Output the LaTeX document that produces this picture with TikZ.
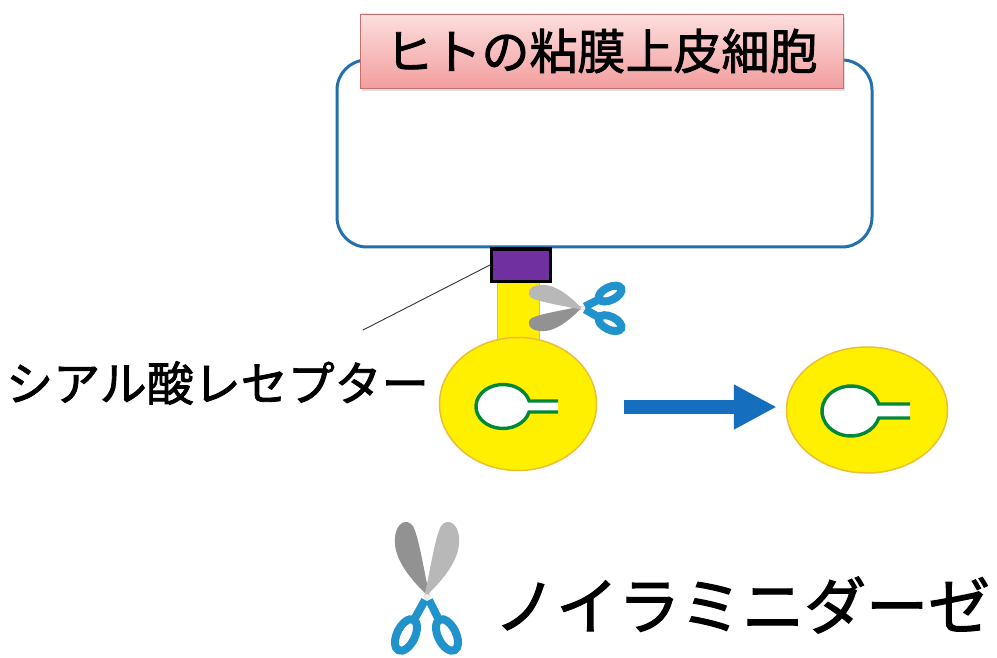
\documentclass[tikz,border=0pt]{standalone}
\usepackage{fontspec}
\newfontfamily\jpfont[FakeBold=1.8]{Noto Sans CJK JP}
\usetikzlibrary{shapes.geometric,arrows.meta,shadows}

\definecolor{cellblue}{RGB}{36,112,172}
\definecolor{arrowblue}{RGB}{22,110,190}
\definecolor{handleblue}{RGB}{32,146,204}
\definecolor{pinktop}{RGB}{253,222,222}
\definecolor{pinkbot}{RGB}{242,158,158}
\definecolor{pinkedge}{RGB}{196,112,112}
\definecolor{receptorpurple}{RGB}{112,48,160}
\definecolor{virusyellow}{RGB}{255,240,0}
\definecolor{virusedge}{RGB}{236,190,50}
\definecolor{keygreen}{RGB}{0,136,56}
\definecolor{bladelight}{RGB}{184,184,184}
\definecolor{bladedark}{RGB}{146,146,146}

\tikzset{
  cellbox/.style={draw=cellblue, line width=3pt, rounded corners=30pt, fill=white, inner sep=0pt},
  labelbox/.style={draw=pinkedge, line width=0.8pt, top color=pinktop, bottom color=pinkbot,
    inner sep=0pt, font=\jpfont\fontsize{48}{48}\selectfont,
    drop shadow={shadow xshift=2pt, shadow yshift=-3pt, opacity=0.25}},
  receptor/.style={draw=black, line width=3pt, fill=receptorpurple, inner sep=0pt},
  virus/.style={ellipse, draw=virusedge, line width=1.5pt, fill=virusyellow, inner sep=0pt},
  stalk/.style={fill=virusyellow, draw=virusedge, line width=0.8pt},
  keyhole/.style={draw=keygreen, line width=3.4pt, fill=white},
  bluearrow/.style={draw=arrowblue, line width=14pt,
    -{Triangle[length=43pt, width=42pt]}},
  leader/.style={draw=black!80, line width=0.9pt},
  caption/.style={inner sep=0pt, anchor=west},
  handle/.style={draw=handleblue, line width=8pt},
}

% a pair of scissors: pivot at the origin, blades up, handles down
\newcommand{\drawscissors}{%
  \draw[handle] (-2,4) -- (-12,22);
  \draw[handle] (2,4) -- (11,22);
  \draw[handle, rotate around={-26:(-21,39)}] (-21,39) ellipse [x radius=9, y radius=17];
  \draw[handle, rotate around={26:(20,39)}] (20,39) ellipse [x radius=9, y radius=17];
  \fill[bladedark] (3,2) .. controls (-14,-14) and (-34,-36) .. (-32,-58)
     .. controls (-31,-74) and (-20,-78) .. (-14,-70)
     .. controls (-8,-58) and (-4,-30) .. (3,2) -- cycle;
  \fill[bladelight] (-3,2) .. controls (14,-14) and (34,-36) .. (32,-58)
     .. controls (31,-74) and (20,-78) .. (14,-70)
     .. controls (8,-58) and (4,-30) .. (-3,2) -- cycle;
  \fill[white!85!gray] (0,1) circle [radius=3];
}

\begin{document}
\begin{tikzpicture}[x=1pt, y=-1pt]
  \path[use as bounding box, fill=white] (0,0) rectangle (997,658);

  % epithelial cell and its title
  \node[cellbox, minimum width=535, minimum height=187] (cell) at (604.5,153.5) {};
  \node[labelbox, minimum width=483, minimum height=74] (title) at (601.5,51) {ヒトの粘膜上皮細胞};

  % virus still bound to the receptor
  \fill[stalk] (497,278) rectangle (539,352);
  \node[virus, minimum width=157, minimum height=133] (v1) at (518,404) {};
  \node[receptor, minimum width=59, minimum height=32] (rec) at (521,265) {};
  \path[keyhole] (558,412) -- (529.1,412)
     arc [start angle=14.48, end angle=345.52, x radius=27, y radius=22]
     -- (558,401);

  % released virus
  \node[virus, minimum width=161, minimum height=126] (v2) at (867,410) {};
  \path[keyhole] (910,418) -- (878.8,418)
     arc [start angle=16.26, end angle=343.74, x radius=29, y radius=25]
     -- (910,404);

  \draw[bluearrow] ([xshift=27pt, yshift=-3pt]v1.east) -- ([xshift=-9pt, yshift=3pt]v2.west);

  % receptor label with its leader line
  \coordinate (leadend) at (363,330);
  \draw[leader] (rec.west) -- (leadend);
  \node[caption, font=\jpfont\fontsize{47}{47}\selectfont] (sialic) at (6,383) {シアル酸レセプター};

  % scissors cutting the stalk
  \begin{scope}[shift={(582,308)}, rotate=90, scale=0.72]
    \drawscissors
  \end{scope}

  % legend
  \begin{scope}[shift={(427,596)}]
    \drawscissors
  \end{scope}
  \node[caption, font=\jpfont\fontsize{62}{62}\selectfont] (nase) at (494,605) {ノイラミニダーゼ};
\end{tikzpicture}
\end{document}
